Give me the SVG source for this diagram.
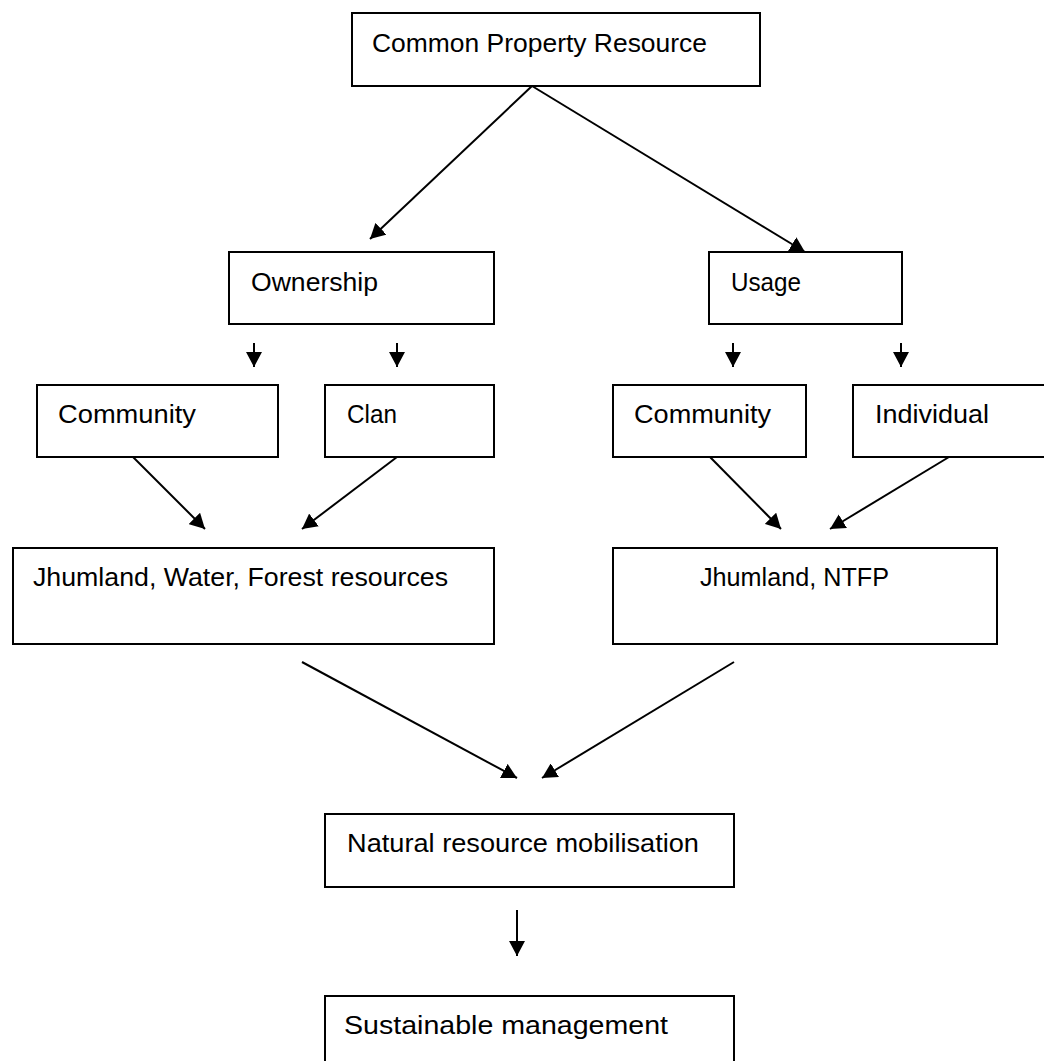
<svg xmlns="http://www.w3.org/2000/svg" width="1044" height="1061" viewBox="0 0 1044 1061">
<style>
.box{fill:#fff;stroke:#000;stroke-width:2}
.t{font-family:"Liberation Sans",Arial,sans-serif;font-size:26px;fill:#000}
.c{stroke:#000;stroke-width:2;fill:none}
</style>
<defs>
<marker id="ah" markerUnits="userSpaceOnUse" viewBox="0 0 15 16" refX="15" refY="8" markerWidth="15" markerHeight="16" orient="auto">
<path d="M0,0 L15,8 L0,16 Z" fill="#000"/>
</marker>
</defs>
<rect width="1044" height="1061" fill="#fff"/>
<g id="connectors">
<line class="c" x1="532" y1="86" x2="370" y2="239" marker-end="url(#ah)"/>
<line class="c" x1="532" y1="86" x2="805" y2="252" marker-end="url(#ah)"/>
<line class="c" x1="254" y1="343" x2="254" y2="367" marker-end="url(#ah)"/>
<line class="c" x1="397" y1="343" x2="397" y2="367" marker-end="url(#ah)"/>
<line class="c" x1="733" y1="343" x2="733" y2="367" marker-end="url(#ah)"/>
<line class="c" x1="901" y1="343" x2="901" y2="367" marker-end="url(#ah)"/>
<line class="c" x1="133" y1="457" x2="205" y2="529" marker-end="url(#ah)"/>
<line class="c" x1="397" y1="457" x2="302" y2="529" marker-end="url(#ah)"/>
<line class="c" x1="710" y1="457" x2="781" y2="529" marker-end="url(#ah)"/>
<line class="c" x1="949" y1="457" x2="830" y2="529" marker-end="url(#ah)"/>
<line class="c" x1="302" y1="662" x2="517" y2="778" marker-end="url(#ah)"/>
<line class="c" x1="734" y1="662" x2="542" y2="778" marker-end="url(#ah)"/>
<line class="c" x1="517" y1="910" x2="517" y2="956" marker-end="url(#ah)"/>
</g>
<g id="n-cpr"><rect class="box" x="352" y="13" width="408" height="73"/><text class="t" x="372" y="52" textLength="335" lengthAdjust="spacingAndGlyphs">Common Property Resource</text></g>
<g id="n-ownership"><rect class="box" x="229" y="252" width="265" height="72"/><text class="t" x="251" y="291" textLength="127" lengthAdjust="spacingAndGlyphs">Ownership</text></g>
<g id="n-usage"><rect class="box" x="709" y="252" width="193" height="72"/><text class="t" x="731" y="291" textLength="70" lengthAdjust="spacingAndGlyphs">Usage</text></g>
<g id="n-community1"><rect class="box" x="37" y="385" width="241" height="72"/><text class="t" x="58" y="423" textLength="138" lengthAdjust="spacingAndGlyphs">Community</text></g>
<g id="n-clan"><rect class="box" x="325" y="385" width="169" height="72"/><text class="t" x="347" y="423" textLength="50" lengthAdjust="spacingAndGlyphs">Clan</text></g>
<g id="n-community2"><rect class="box" x="613" y="385" width="193" height="72"/><text class="t" x="634" y="423" textLength="137" lengthAdjust="spacingAndGlyphs">Community</text></g>
<g id="n-individual"><rect class="box" x="853" y="385" width="220" height="72"/><text class="t" x="875" y="423" textLength="114" lengthAdjust="spacingAndGlyphs">Individual</text></g>
<g id="n-jhum1"><rect class="box" x="13" y="548" width="481" height="96"/><text class="t" x="33" y="586" textLength="415" lengthAdjust="spacingAndGlyphs">Jhumland, Water, Forest resources</text></g>
<g id="n-jhum2"><rect class="box" x="613" y="548" width="384" height="96"/><text class="t" x="700" y="586" textLength="189" lengthAdjust="spacingAndGlyphs">Jhumland, NTFP</text></g>
<g id="n-natural"><rect class="box" x="325" y="814" width="409" height="73"/><text class="t" x="347" y="852" textLength="352" lengthAdjust="spacingAndGlyphs">Natural resource mobilisation</text></g>
<g id="n-sustainable"><rect class="box" x="325" y="996" width="409" height="100"/><text class="t" x="344" y="1034" textLength="324" lengthAdjust="spacingAndGlyphs">Sustainable management</text></g>
</svg>
